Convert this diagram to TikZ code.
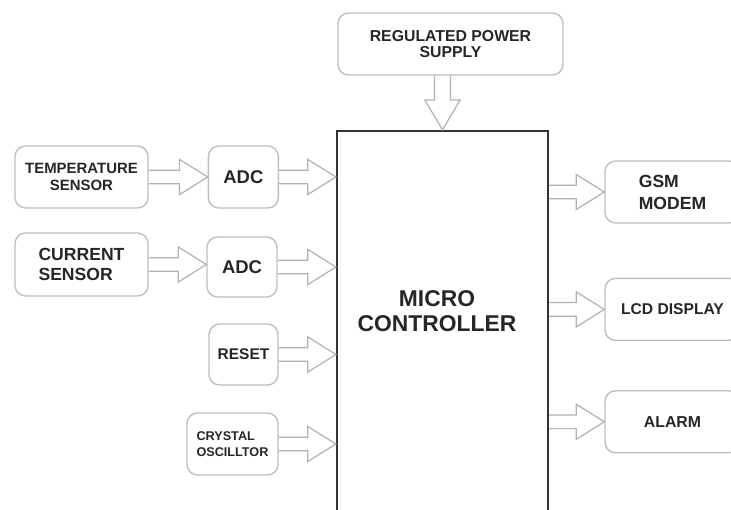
\documentclass[tikz,border=0pt]{standalone}
\usepackage{fontspec}
\setmainfont{Liberation Sans}
\usepackage{tikz}
\usetikzlibrary{positioning,calc}

% hollow block arrows between two points
\newcommand{\sidearrow}[2]{%
  \draw[flow] let \p1=(#1), \p2=(#2) in
    (\x1,\y1+3.9pt) -- (\x2-16pt,\y1+3.9pt) -- (\x2-16pt,\y1+10pt) -- (\x2,\y1)
    -- (\x2-16pt,\y1-10pt) -- (\x2-16pt,\y1-3.9pt) -- (\x1,\y1-3.9pt);}
\newcommand{\droparrow}[2]{%
  \draw[flow] let \p1=(#1), \p2=(#2) in
    (\x1-4.5pt,\y1) -- (\x1-4.5pt,\y2+17pt) -- (\x1-10pt,\y2+17pt) -- (\x1,\y2)
    -- (\x1+10pt,\y2+17pt) -- (\x1+4.5pt,\y2+17pt) -- (\x1+4.5pt,\y1);}

\begin{document}
\begin{tikzpicture}[x=0.02cm, y=-0.02cm,
    block/.style={rectangle, rounded corners=6pt, draw=gray!50, line width=0.8pt, fill=white, align=center, text=black!85},
    mcbox/.style={rectangle, draw=black!80, line width=1.3pt, fill=white},
    flow/.style={draw=gray!60, line width=0.7pt, line join=miter}
]
    \fill[white] (0,0) rectangle (731,510);
    \useasboundingbox (0,0) rectangle (731,510);

    \node[mcbox, minimum width=4.22cm, minimum height=7.98cm] (mc) at (442.5,330.5) {};
    \node[align=center, text=black!85, font=\bfseries\fontsize{13}{14}\selectfont] (mctext) at (437,311) {MICRO\\CONTROLLER};

    \node[block, minimum width=4.5cm, minimum height=1.24cm, font=\bfseries\fontsize{9}{9.6}\selectfont] (power) at (450.5,44) {REGULATED POWER\\SUPPLY};

    \node[block, minimum width=2.66cm, minimum height=1.24cm, font=\bfseries\fontsize{8.5}{9.5}\selectfont] (temp) at (81.5,177) {TEMPERATURE\\SENSOR};
    \node[block, minimum width=1.4cm, minimum height=1.24cm, font=\bfseries\fontsize{10.5}{12}\selectfont, right=1.18cm of temp] (adc1) {ADC};
    \node[block, minimum width=2.66cm, minimum height=1.26cm, align=left, font=\bfseries\fontsize{10}{11.5}\selectfont] (curr) at (81.5,264.5) {CURRENT\\SENSOR};
    \node[block, minimum width=1.4cm, minimum height=1.2cm, font=\bfseries\fontsize{10.5}{12}\selectfont] (adc2) at (242,267) {ADC};
    \node[block, minimum width=1.38cm, minimum height=1.22cm, font=\bfseries\fontsize{8.8}{10}\selectfont] (reset) at (243.5,354.5) {RESET};
    \node[block, minimum width=1.82cm, minimum height=1.24cm, align=left, font=\bfseries\fontsize{7.2}{9}\selectfont] (xtal) at (232.5,444) {CRYSTAL\\OSCILLTOR};

    \node[block, minimum width=2.7cm, minimum height=1.24cm, align=left, font=\bfseries\fontsize{10}{12.5}\selectfont] (gsm) at (672.5,192) {GSM\\MODEM};
    \node[block, minimum width=2.7cm, minimum height=1.24cm, font=\bfseries\fontsize{8.9}{10}\selectfont, below=1.08cm of gsm] (lcd) {LCD DISPLAY};
    \node[block, minimum width=2.7cm, minimum height=1.24cm, font=\bfseries\fontsize{9}{10}\selectfont, below=0.98cm of lcd] (alarm) {ALARM};

    \droparrow{mc.north |- power.south}{mc.north}

    \sidearrow{temp.east}{adc1.west}
    \sidearrow{curr.east}{adc2.west}
    \sidearrow{adc1.east}{mc.west |- adc1.east}
    \sidearrow{adc2.east}{mc.west |- adc2.east}
    \sidearrow{reset.east}{mc.west |- reset.east}
    \sidearrow{xtal.east}{mc.west |- xtal.east}

    \sidearrow{mc.east |- gsm.west}{gsm.west}
    \sidearrow{mc.east |- lcd.west}{lcd.west}
    \sidearrow{mc.east |- alarm.west}{alarm.west}
\end{tikzpicture}
\end{document}
